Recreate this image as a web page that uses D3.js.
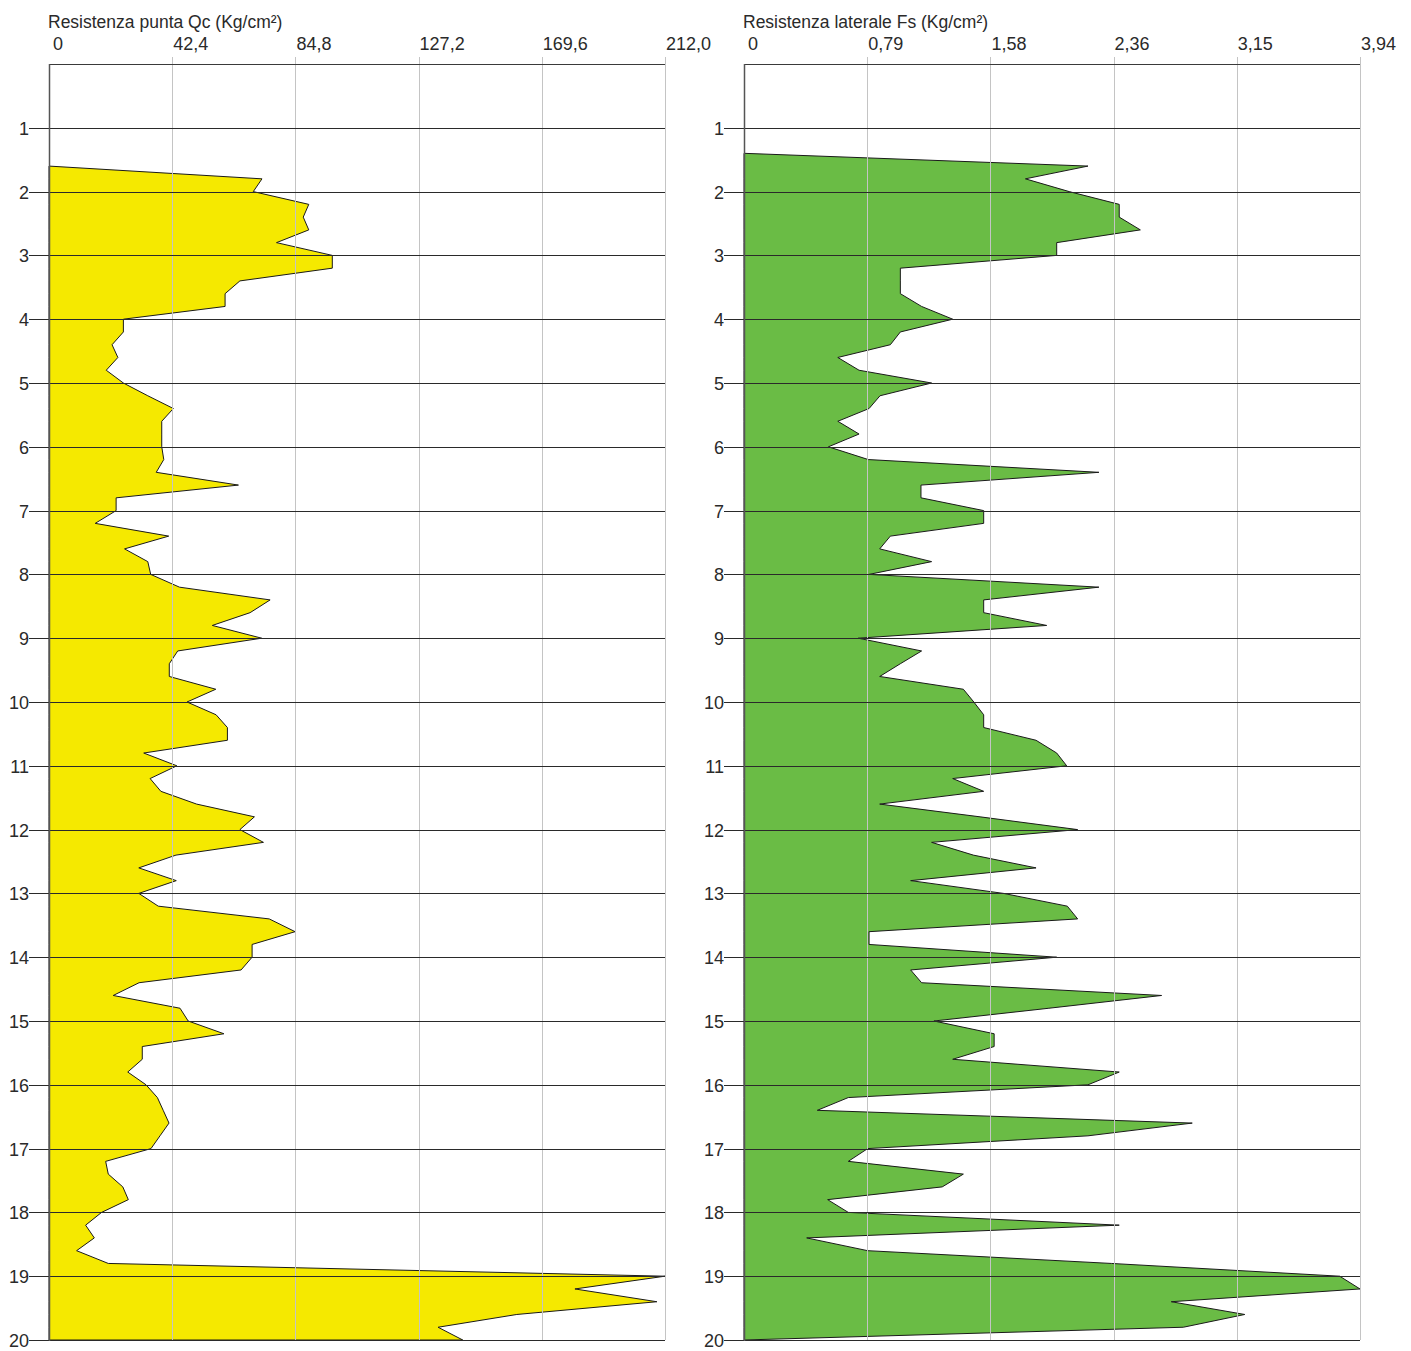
<!DOCTYPE html>
<html>
<head>
<meta charset="utf-8">
<script src="https://cdn.jsdelivr.net/npm/d3@7/dist/d3.min.js"></script>
<style>
  html, body { margin: 0; padding: 0; background: #fff; }
  svg { display: block; }
  text { font-family: "Liberation Sans", Arial, sans-serif; fill: #2a2a2a; }
</style>
</head>
<body>
<svg id="chart" width="1411" height="1351"></svg>
<script>
// ---- data ----
const depths = [1.4,1.6,1.8,2.0,2.2,2.4,2.6,2.8,3.0,3.2,3.4,3.6,3.8,4.0,4.2,4.4,4.6,4.8,5.0,5.2,5.4,5.6,5.8,6.0,6.2,6.4,6.6,6.8,7.0,7.2,7.4,7.6,7.8,8.0,8.2,8.4,8.6,8.8,9.0,9.2,9.4,9.6,9.8,10.0,10.2,10.4,10.6,10.8,11.0,11.2,11.4,11.6,11.8,12.0,12.2,12.4,12.6,12.8,13.0,13.2,13.4,13.6,13.8,14.0,14.2,14.4,14.6,14.8,15.0,15.2,15.4,15.6,15.8,16.0,16.2,16.4,16.6,16.8,17.0,17.2,17.4,17.6,17.8,18.0,18.2,18.4,18.6,18.8,19.0,19.2,19.4,19.6,19.8,20.0];

const qcValues = [null,0,73.3,70.3,89.4,87.5,89.4,78.3,97.5,97.5,65.7,60.6,60.6,25.6,25.6,21.7,23.7,19.7,25.6,34.0,42.8,38.8,38.8,38.8,39.5,36.9,65.2,23.1,23.1,15.9,41.2,26.0,34.0,35.0,44.9,76.1,69.2,56.2,73.2,44.3,41.4,41.4,57.4,47.5,57.5,61.4,61.4,32.6,44.0,34.8,38.5,50.8,70.7,65.7,73.8,43.7,30.9,43.8,30.9,37.6,75.8,84.7,69.9,69.9,66.1,31.0,22.1,45.1,47.9,60.2,32.1,32.1,27.1,33.4,37.3,39.3,41.3,38.2,35.1,19.5,20.4,25.4,27.3,18.1,12.6,15.6,9.5,20.4,212.0,181.0,209.2,161.0,133.9,142.4];

const fsValues = [0,2.20,1.80,2.08,2.40,2.40,2.535,2.0,2.0,1.0,1.0,1.0,1.136,1.335,1.0,0.936,0.60,0.736,1.20,0.87,0.80,0.60,0.736,0.54,0.795,2.27,1.132,1.132,1.533,1.533,0.936,0.868,1.20,0.80,2.27,1.533,1.533,1.936,0.731,1.136,1.0,0.868,1.403,1.47,1.533,1.533,1.868,2.0,2.064,1.335,1.533,0.868,1.51,2.134,1.20,1.467,1.868,1.066,1.66,2.068,2.134,0.80,0.80,2.0,1.066,1.136,2.671,1.95,1.215,1.60,1.60,1.335,2.40,2.20,0.667,0.469,2.867,2.20,0.791,0.667,1.403,1.268,0.535,0.667,2.40,0.401,0.791,2.35,3.81,3.94,2.733,3.203,2.81,0];

const depthTicks = [1,2,3,4,5,6,7,8,9,10,11,12,13,14,15,16,17,18,19,20];

const qcTicks = [0,42.4,84.8,127.2,169.6,212.0];
const qcTickLabels = ["0","42,4","84,8","127,2","169,6","212,0"];
const fsTicks = [0,0.788,1.576,2.364,3.152,3.94];
const fsTickLabels = ["0","0,79","1,58","2,36","3,15","3,94"];

const panels = [
  { title: "Resistenza punta Qc (Kg/cm²)", values: qcValues, max: 212, ticks: qcTicks, labels: qcTickLabels, color: "#F5E900", left: 49 },
  { title: "Resistenza laterale Fs (Kg/cm²)", values: fsValues, max: 3.94, ticks: fsTicks, labels: fsTickLabels, color: "#6ABC45", left: 744 }
];

// ---- layout ----
const svg = d3.select("#chart");
const panelW = 616;
const y = d3.scaleLinear().domain([0, 20]).range([64, 1340]);

panels.forEach(p => {
  const x = d3.scaleLinear().domain([0, p.max]).range([p.left, p.left + panelW]);
  const g = svg.append("g");

  const rows = depths.map((d, i) => ({ d, v: p.values[i] }));
  const area = d3.area()
    .defined(r => r.v !== null)
    .y(r => y(r.d))
    .x0(x(0))
    .x1(r => x(r.v));
  g.append("path")
    .datum(rows)
    .attr("d", area)
    .attr("fill", p.color)
    .attr("stroke", "#1a1a1a")
    .attr("stroke-width", 1)
    .attr("stroke-linejoin", "miter");

  // vertical grid lines
  g.selectAll("line.vg")
    .data(p.ticks.slice(1))
    .enter().append("line")
    .attr("x1", d => Math.round(x(d)) + 0.5)
    .attr("x2", d => Math.round(x(d)) + 0.5)
    .attr("y1", y(0) - 7)
    .attr("y2", y(20))
    .attr("stroke", "#c4c4c4")
    .attr("stroke-width", 1);

  // horizontal depth lines
  g.selectAll("line.hg")
    .data(depthTicks)
    .enter().append("line")
    .attr("x1", x(0) - 20)
    .attr("x2", x(p.max))
    .attr("y1", d => Math.round(y(d)) + 0.5)
    .attr("y2", d => Math.round(y(d)) + 0.5)
    .attr("stroke", "#2a2a2a")
    .attr("stroke-width", 1);

  // depth labels
  g.selectAll("text.yl")
    .data(depthTicks)
    .enter().append("text")
    .attr("x", x(0) - 20)
    .attr("y", d => y(d) + 7)
    .attr("text-anchor", "end")
    .attr("font-size", 18)
    .text(d => d);

  // top border and left border
  g.append("line")
    .attr("x1", x(0)).attr("x2", x(p.max))
    .attr("y1", y(0) + 0.5).attr("y2", y(0) + 0.5)
    .attr("stroke", "#3a3a3a").attr("stroke-width", 1);
  g.append("line")
    .attr("x1", x(0) + 0.5).attr("x2", x(0) + 0.5)
    .attr("y1", y(0)).attr("y2", y(20) + 1)
    .attr("stroke", "#555").attr("stroke-width", 1.5);

  // top tick labels
  g.selectAll("text.xl")
    .data(p.ticks)
    .enter().append("text")
    .attr("x", (d, i) => x(d) + (i === 0 ? 4 : 1))
    .attr("y", 50)
    .attr("text-anchor", "start")
    .attr("font-size", 18)
    .text((d, i) => p.labels[i]);

  // title
  g.append("text")
    .attr("x", p.left - 1)
    .attr("y", 28)
    .attr("font-size", 17.5)
    .text(p.title);
});
</script>
</body>
</html>
